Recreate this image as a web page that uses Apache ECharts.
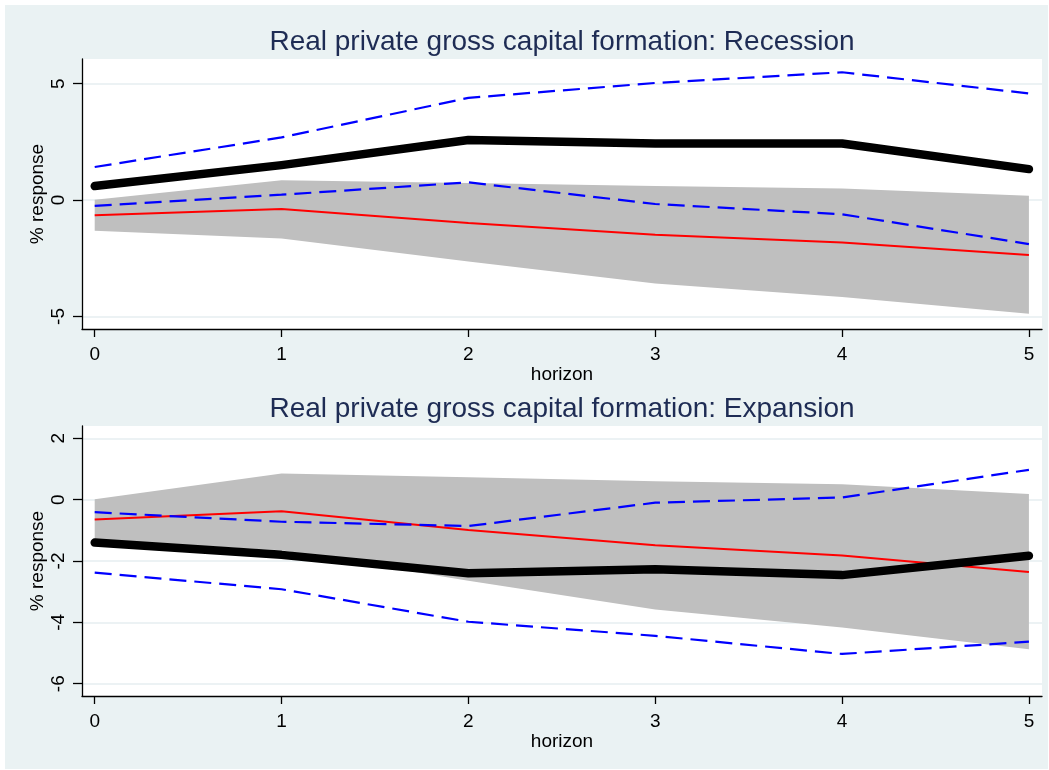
<!DOCTYPE html>
<html>
<head>
<meta charset="utf-8">
<title>Real private gross capital formation</title>
<script src="https://cdn.jsdelivr.net/npm/echarts@6.0.0/dist/echarts.min.js"></script>
<style>
    html, body { margin: 0; padding: 0; background: #ffffff; }
    #main { width: 1049px; height: 770px; }
</style>
</head>
<body>
<div id="main"></div>
<script>
// horizon (x axis)
var horizon = [0, 1, 2, 3, 4, 5];

// linear model: same in both panels (red line + grey band)
var linMid  = [-0.65, -0.38, -0.99, -1.49, -1.82, -2.36];
var linLow  = [-1.32, -1.65, -2.64, -3.58, -4.17, -4.88];
var linHigh = [0.01, 0.85, 0.73, 0.60, 0.50, 0.18];

// recession regime
var recMid  = [0.60, 1.50, 2.58, 2.43, 2.43, 1.33];
var recLow  = [-0.25, 0.23, 0.76, -0.17, -0.61, -1.89];
var recHigh = [1.42, 2.69, 4.39, 5.03, 5.49, 4.58];

// expansion regime
var expMid  = [-1.40, -1.80, -2.40, -2.27, -2.46, -1.83];
var expLow  = [-2.38, -2.92, -3.98, -4.44, -5.03, -4.63];
var expHigh = [-0.41, -0.72, -0.86, -0.10, 0.07, 0.97];

// tick labels
var xTicks = [0, 1, 2, 3, 4, 5];
var recTicks = [-5, 0, 5];
var expTicks = [-6, -4, -2, 0, 2];

var titles = ['Real private gross capital formation: Recession',
              'Real private gross capital formation: Expansion'];

var FONT = 'Liberation Sans, Arial, Helvetica, sans-serif';

function pairs(ys) {
    var out = [];
    for (var i = 0; i < horizon.length; i++) {
        out.push([horizon[i], ys[i]]);
    }
    return out;
}

// grey band drawn as one polygon through the axis scales
function bandItem(params, api) {
    var pts = [];
    for (var i = 0; i < horizon.length; i++) {
        pts.push(api.coord([horizon[i], linHigh[i]]));
    }
    for (var j = horizon.length - 1; j >= 0; j--) {
        pts.push(api.coord([horizon[j], linLow[j]]));
    }
    return {
        type: 'polygon',
        shape: { points: pts },
        style: { fill: '#bfbfbf' }
    };
}

function xAxisFor(idx) {
    return {
        type: 'value',
        gridIndex: idx,
        min: -0.068,
        max: 5.07,
        name: 'horizon',
        nameLocation: 'middle',
        nameGap: 36,
        nameMoveOverlap: false,
        nameTextStyle: { color: '#000', fontSize: 19, fontFamily: FONT },
        axisLine: { show: true, onZero: false, lineStyle: { color: '#000', width: 1.3 } },
        axisTick: { show: true, length: 8, customValues: xTicks, lineStyle: { color: '#000', width: 1.3 } },
        axisLabel: { customValues: xTicks, margin: 16, color: '#000', fontSize: 19, fontFamily: FONT },
        splitLine: { show: false }
    };
}

function yAxisFor(idx, min, max, ticks) {
    return {
        type: 'value',
        gridIndex: idx,
        min: min,
        max: max,
        name: '% response',
        nameLocation: 'middle',
        nameRotate: 90,
        nameGap: 35,
        nameMoveOverlap: false,
        nameTextStyle: { color: '#000', fontSize: 19, fontFamily: FONT },
        axisLine: { show: true, onZero: false, lineStyle: { color: '#000', width: 1.3 } },
        axisTick: { show: true, length: 9, customValues: ticks, lineStyle: { color: '#000', width: 1.3 } },
        axisLabel: { customValues: ticks, rotate: 90, margin: 14, color: '#000', fontSize: 19, fontFamily: FONT },
        splitLine: { show: true, lineStyle: { color: '#e6eef1', width: 1.5 } }
    };
}

function panelSeries(idx, mid, low, high) {
    var dashed = { color: '#0000ff', width: 2.2, type: [17, 8] };
    return [{
        type: 'custom',
        xAxisIndex: idx,
        yAxisIndex: idx,
        renderItem: bandItem,
        data: [[0, 0]],
        z: 1
    }, {
        type: 'line',
        xAxisIndex: idx,
        yAxisIndex: idx,
        data: pairs(linMid),
        symbol: 'none',
        lineStyle: { color: '#ff0000', width: 2 },
        z: 2
    }, {
        type: 'line',
        xAxisIndex: idx,
        yAxisIndex: idx,
        data: pairs(high),
        symbol: 'none',
        lineStyle: dashed,
        z: 3
    }, {
        type: 'line',
        xAxisIndex: idx,
        yAxisIndex: idx,
        data: pairs(low),
        symbol: 'none',
        lineStyle: dashed,
        z: 3
    }, {
        type: 'line',
        xAxisIndex: idx,
        yAxisIndex: idx,
        data: pairs(mid),
        symbol: 'none',
        lineStyle: { color: '#000000', width: 8.5, cap: 'round', join: 'round' },
        z: 4
    }];
}

var chart = echarts.init(document.getElementById('main'));

var option = {
    backgroundColor: '#ffffff',
    animation: false,
    graphic: [{
        type: 'rect',
        z: -10,
        silent: true,
        shape: { x: 5, y: 5, width: 1043, height: 764 },
        style: { fill: '#eaf2f3' }
    }],
    title: [{
        text: titles[0],
        left: 562,
        top: 28,
        textAlign: 'center',
        padding: 0,
        textStyle: { color: '#1e2c54', fontSize: 28, fontWeight: 'normal', fontFamily: FONT }
    }, {
        text: titles[1],
        left: 562,
        top: 395,
        textAlign: 'center',
        padding: 0,
        textStyle: { color: '#1e2c54', fontSize: 28, fontWeight: 'normal', fontFamily: FONT }
    }],
    grid: [
        { left: 82, right: 7, top: 59, height: 270, show: true, backgroundColor: '#ffffff', borderWidth: 0 },
        { left: 82, right: 7, top: 426, height: 270, show: true, backgroundColor: '#ffffff', borderWidth: 0 }
    ],
    xAxis: [xAxisFor(0), xAxisFor(1)],
    yAxis: [
        yAxisFor(0, -5.54, 6.06, recTicks),
        yAxisFor(1, -6.4, 2.4, expTicks)
    ],
    series: panelSeries(0, recMid, recLow, recHigh).concat(panelSeries(1, expMid, expLow, expHigh))
};

chart.setOption(option);
</script>
</body>
</html>
